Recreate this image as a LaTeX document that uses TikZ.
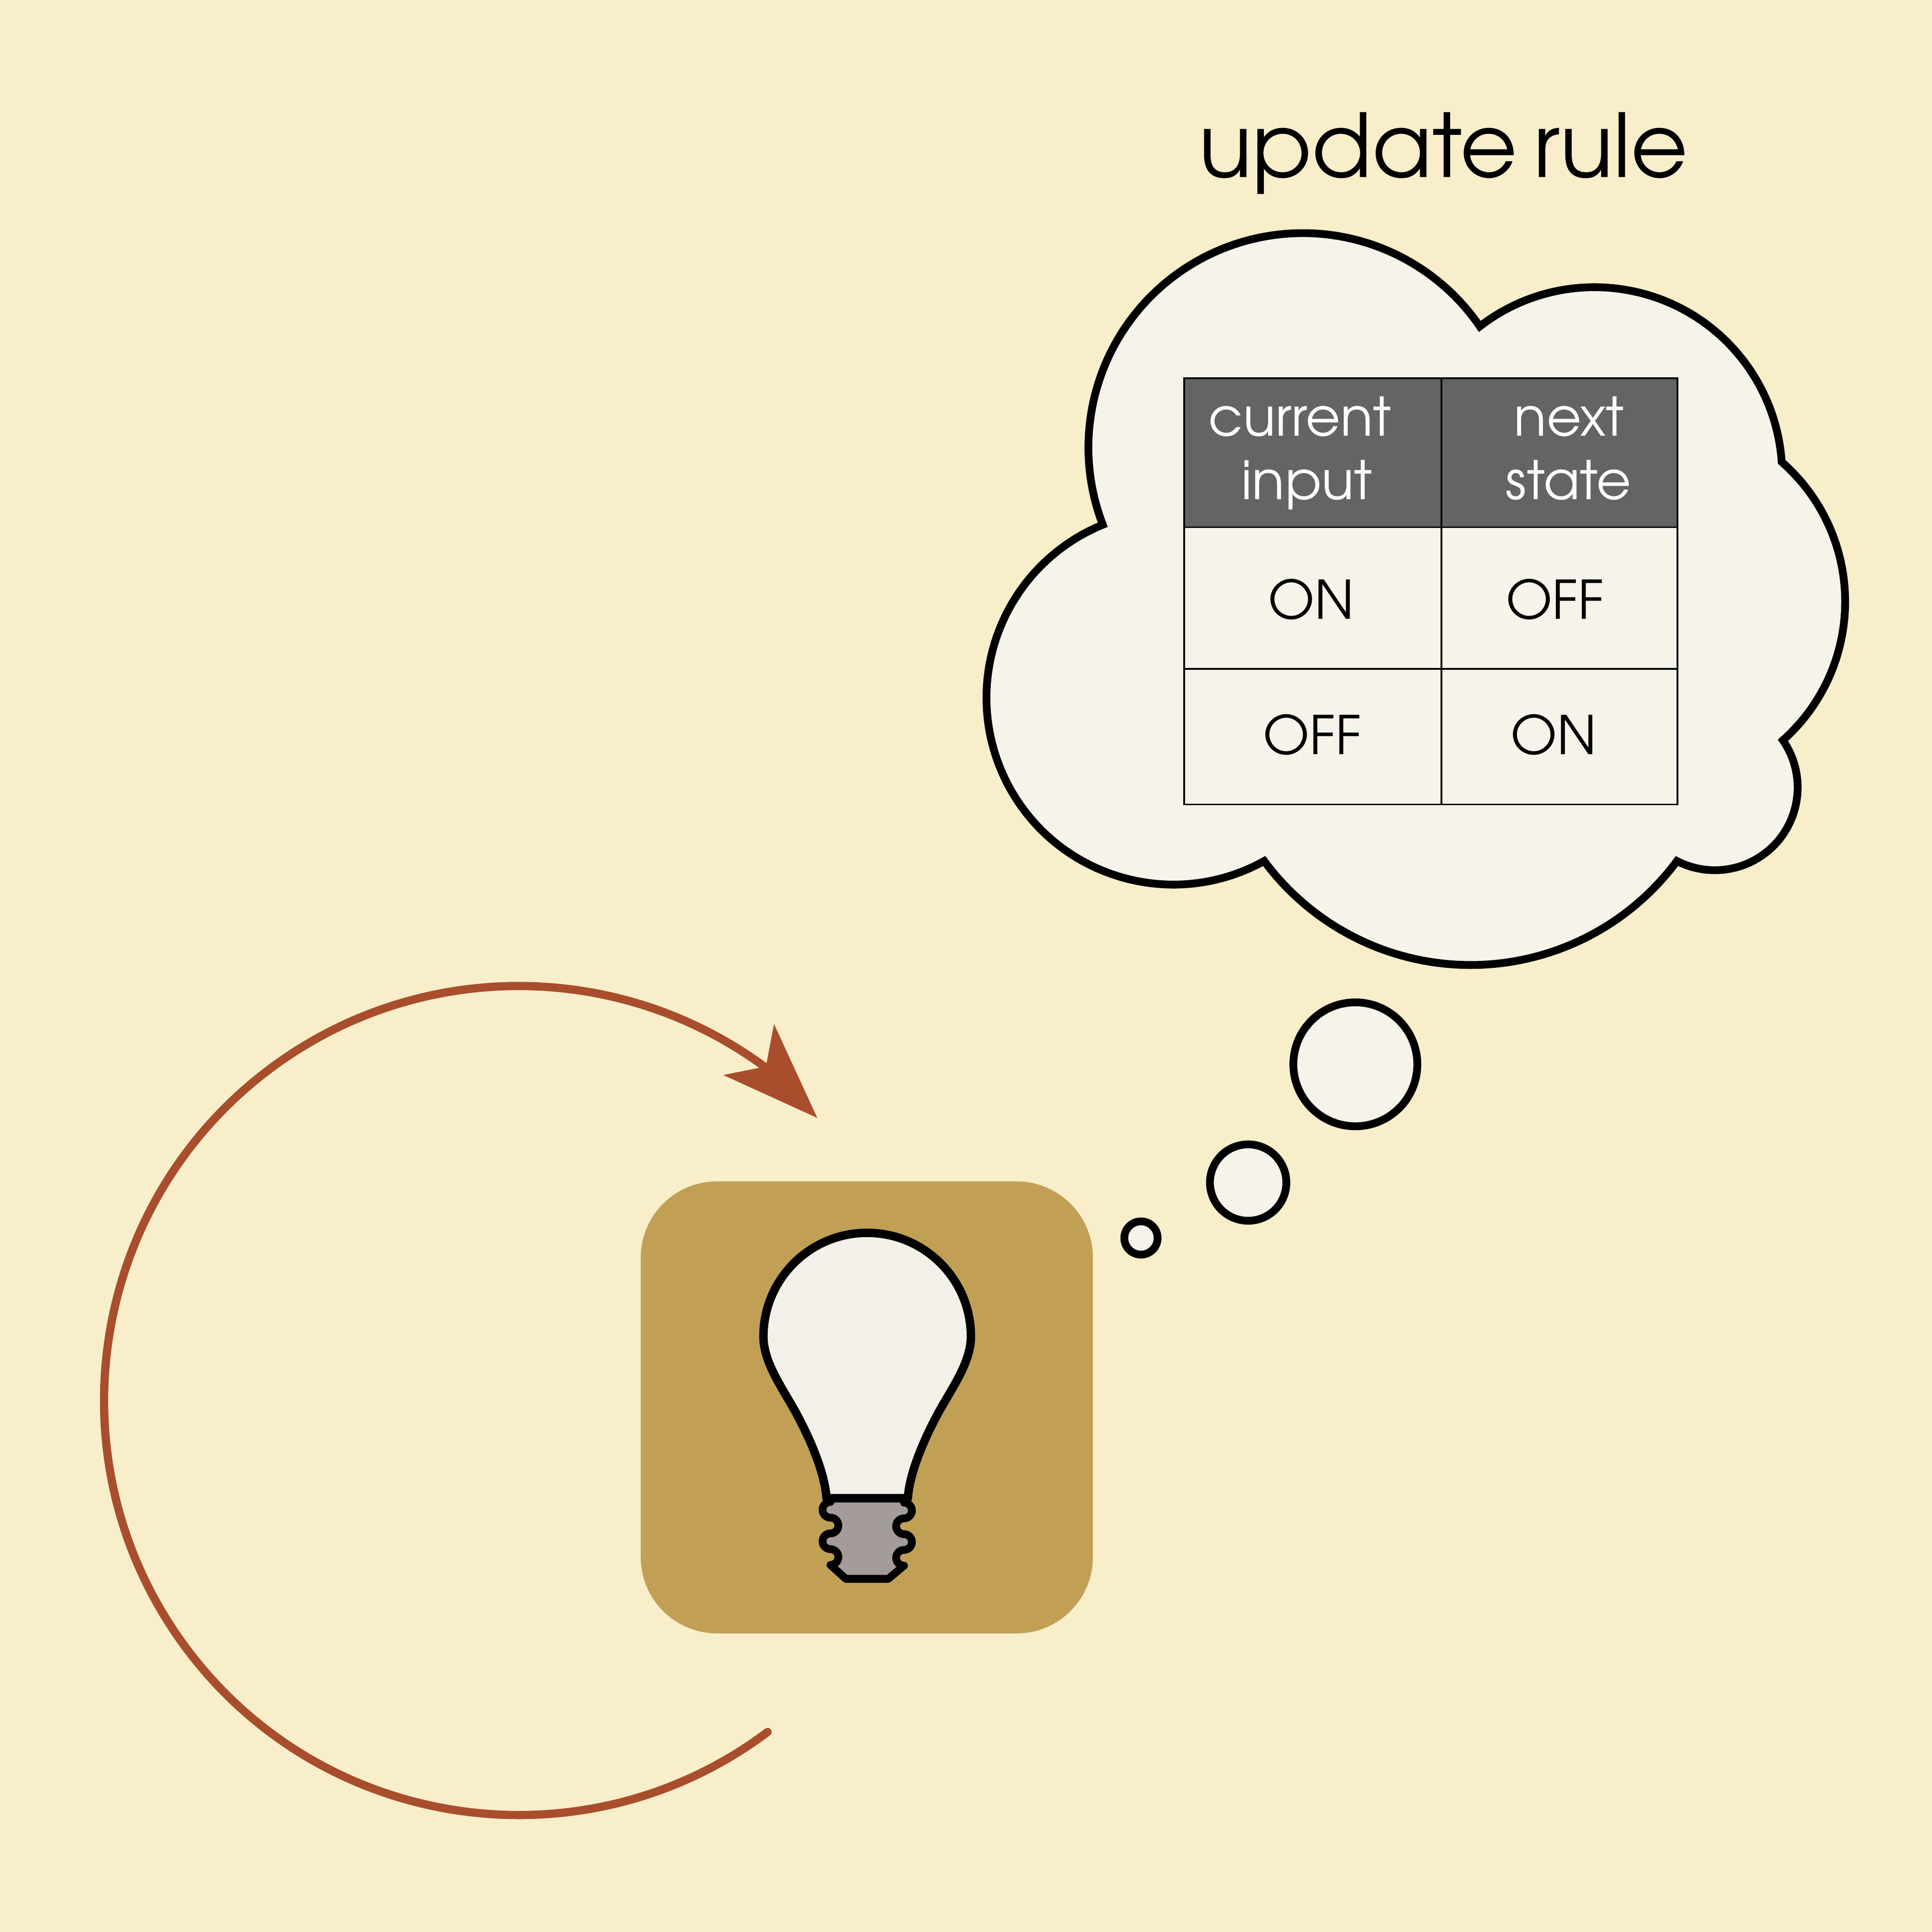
\documentclass[tikz,border=0pt]{standalone}
\usepackage{fontspec}
\setmainfont{TeX Gyre Adventor}
\definecolor{paper}{HTML}{F8EECA}
\definecolor{cream}{HTML}{F6F3EA}
\definecolor{glass}{HTML}{F3F0E9}
\definecolor{ochre}{HTML}{C1A056}
\definecolor{socket}{HTML}{A39C98}
\definecolor{rust}{HTML}{A94E2D}
\definecolor{header}{HTML}{646464}
\tikzset{
    outline/.style={line width=1.8pt, draw=black},
    cell/.style={line width=0.4pt, draw=black},
    cellhead/.style={font=\fontsize{12.3}{15}\selectfont, text=white, anchor=base},
    celltext/.style={font=\fontsize{12.3}{15}\selectfont, anchor=center}
}

\begin{document}
\begin{tikzpicture}[x=0.01cm, y=-0.01cm]
    \fill [color=paper] (0,0) rectangle (1568,1568.4);
    \useasboundingbox (0,0) rectangle (1568,1568.4);
    % thought cloud
    \draw [outline, fill=cream] (1057.4,189.24) arc[start angle=270, end angle=325.6, radius=174.06]
        arc[start angle=232.28, end angle=356.08, radius=152.23]
        arc[start angle=311.15, end angle=408.35, radius=150.64]
        arc[start angle=325.27, end angle=477.27, radius=67.19]
        arc[start angle=36.5, end angle=143.5, radius=208.37]
        arc[start angle=60.92, end angle=247.82, radius=151.67]
        arc[start angle=158.9, end angle=271, radius=174.06];
    \draw [outline, fill=cream] (1100,864) circle (50.3);
    \draw [outline, fill=cream] (1013,960) circle (31);
    \draw [outline, fill=cream] (926,1005) circle (13.5);
    \node (title) [font=\fontsize{20.3}{24}\selectfont, anchor=base] at (1171.5,144) {update\kern-1.85pt\ rule};
    % table
    \fill [color=header] (961,307) rectangle (1361.5,428);
    \draw [cell] (961,307) rectangle (1361.5,653);
    \draw [cell] (1170,307) -- (1170,653);
    \draw [cell] (961,428) -- (1361.5,428);
    \draw [cell] (961,543) -- (1361.5,543);
    \node (current) [cellhead] at (1055,354) {current};
    \node (input) [cellhead] at (1060.5,405.5) {input};
    \node (next) [cellhead] at (1273.5,354) {next};
    \node (state) [cellhead] at (1273,405.5) {state};
    \node (onA) [celltext] at (1064,486.5) {ON};
    \node (offA) [celltext] at (1262,486.5) {OFF};
    \node (offB) [celltext] at (1065,596.5) {OFF};
    \node (onB) [celltext] at (1261,596.5) {ON};
    % lamp
    \fill [color=ochre, rounded corners=0.62cm] (520,959) rectangle (887,1326);
    \draw [outline, fill=socket, line join=round] (674,1216.3) -- (674,1219.2)
        arc[start angle=270, end angle=90, radius=6.4]
        arc[start angle=270, end angle=450, radius=6.4]
        arc[start angle=270, end angle=90, radius=6.4]
        arc[start angle=270, end angle=450, radius=6.4]
        -- (686.5,1281.7) -- (720.9,1281.7) -- (733.7,1271)
        arc[start angle=90, end angle=270, radius=6.4]
        arc[start angle=90, end angle=-90, radius=6.4]
        arc[start angle=90, end angle=270, radius=6.4]
        arc[start angle=90, end angle=-90, radius=6.4]
        -- (733.7,1216.3) -- cycle;
    \draw [outline, line width=1.95pt, fill=glass, line join=round] (670.8,1216.3)
        .. controls (669,1190) and (651,1155) .. (641,1138)
        .. controls (631,1121) and (619.6,1103) .. (619.6,1085)
        arc[start angle=180, end angle=360, radius=84.2]
        .. controls (788,1103) and (776.6,1121) .. (766.6,1138)
        .. controls (756.6,1155) and (738.6,1190) .. (736.8,1216.3) -- cycle;
    % feedback arrow
    \draw [line width=1.9pt, color=rust, line cap=round] (623,1406) arc[start angle=53.1, end angle=306.5, radius=336.5];
    \fill [color=rust] (663.3,907.5) -- (628.2,831.3) -- (621.6,865.8) -- (587,872.7) -- cycle;
\end{tikzpicture}
\end{document}
